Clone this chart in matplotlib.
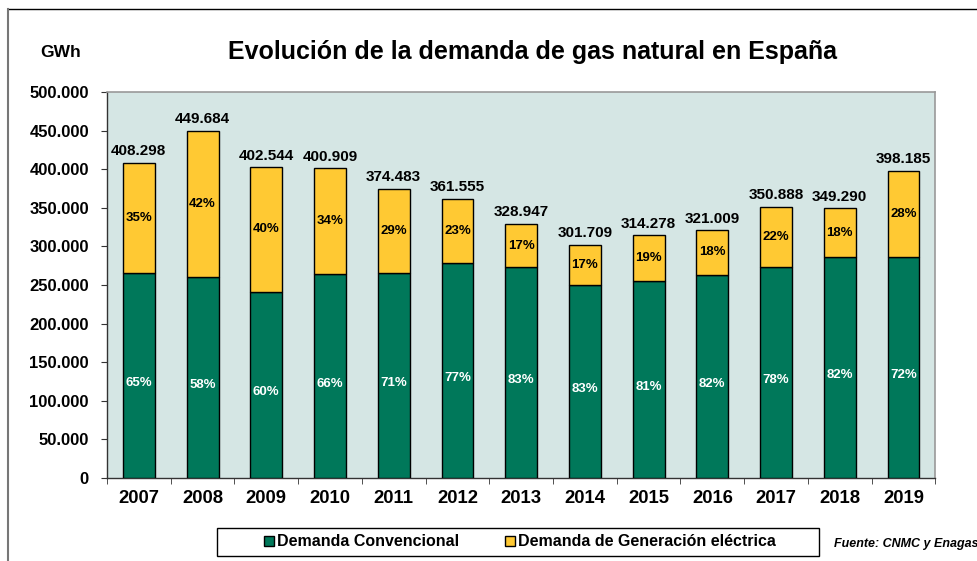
import matplotlib.pyplot as plt
import matplotlib.ticker as mticker
from matplotlib.patches import Rectangle
import numpy as np

plt.rcParams['font.family'] = ['Liberation Sans', 'DejaVu Sans']
plt.rcParams['font.weight'] = 'bold'

# data
years = ['2007', '2008', '2009', '2010', '2011', '2012', '2013',
         '2014', '2015', '2016', '2017', '2018', '2019']
totals = [408298, 449684, 402544, 400909, 374483, 361555, 328947,
          301709, 314278, 321009, 350888, 349290, 398185]
pct_conv = [65, 58, 60, 66, 71, 77, 83, 83, 81, 82, 78, 82, 72]
pct_elec = [35, 42, 40, 34, 29, 23, 17, 17, 19, 18, 22, 18, 28]

green = '#00785A'
yellow = '#FFC933'
bg = '#D5E6E4'

totals = np.array(totals, dtype=float)
conv = totals * np.array(pct_conv) / 100.0
elec = totals - conv
x = np.arange(len(years))

fig = plt.figure(figsize=(9.78, 5.61), dpi=100)
ax = fig.add_axes([0.1094, 0.148, 0.847, 0.688])
ax.set_facecolor(bg)

ax.bar(x, conv, width=0.5, color=green, edgecolor='black', linewidth=1,
       label='Demanda Convencional', zorder=3)
ax.bar(x, elec, bottom=conv, width=0.5, color=yellow, edgecolor='black',
       linewidth=1, label='Demanda de Generación eléctrica', zorder=3)

def fmt(v):
    return f'{int(round(v)):,}'.replace(',', '.')

for i in range(len(years)):
    ax.text(x[i], totals[i] + 6000, fmt(totals[i]), ha='center', va='bottom',
            fontsize=11, fontweight='bold', zorder=4)
    ax.text(x[i], conv[i] / 2 - 10000, f'{pct_conv[i]}%', ha='center', va='center',
            fontsize=9.5, fontweight='bold', color='white', zorder=4)
    ax.text(x[i], conv[i] + elec[i] / 2, f'{pct_elec[i]}%', ha='center', va='center',
            fontsize=9.5, fontweight='bold', color='black', zorder=4)

ax.set_xlim(-0.5, len(years) - 0.5)
ax.set_ylim(0, 500000)
ax.yaxis.set_major_locator(mticker.MultipleLocator(50000))
ax.yaxis.set_major_formatter(mticker.FuncFormatter(lambda v, p: fmt(v)))
ax.set_xticks(x)
ax.set_xticklabels(years, fontsize=13.3, fontweight='bold')
ax.set_xticks(np.arange(-0.5, len(years), 1), minor=True)
ax.tick_params(axis='x', which='major', length=0, pad=9)
ax.tick_params(axis='x', which='minor', length=4, color='#333333')
ax.tick_params(axis='y', length=4, color='#333333', labelsize=12, pad=9)
for lab in ax.get_yticklabels():
    lab.set_fontweight('bold')

for s in ['left', 'bottom']:
    ax.spines[s].set_color('#333333')
    ax.spines[s].set_linewidth(1)
for s in ['top', 'right']:
    ax.spines[s].set_color('#999999')
    ax.spines[s].set_linewidth(1.2)

fig.text(0.544, 0.907, 'Evolución de la demanda de gas natural en España',
         ha='center', va='center', fontsize=18, fontweight='bold')
fig.text(0.0615, 0.907, 'GWh', ha='center', va='center', fontsize=12.5,
         fontweight='bold')

# legend frame drawn separately to match the wide box
fig.add_artist(Rectangle((0.2219, 0.0089), 0.6155, 0.0499,
                         transform=fig.transFigure, facecolor='white',
                         edgecolor='black', linewidth=1))
leg = fig.legend(loc='center', bbox_to_anchor=(0.5317, 0.0339), ncol=2,
                 frameon=False, fontsize=11.5,
                 handlelength=0.63, handleheight=0.63, handletextpad=0.15,
                 columnspacing=2.9, borderpad=0.2)
for h in leg.legend_handles:
    h.set_linewidth(1)
for t in leg.get_texts():
    t.set_fontweight('bold')

fig.text(0.853, 0.031, 'Fuente: CNMC y Enagas', ha='left', va='center',
         fontsize=9, fontweight='bold', style='italic')

# outer frame lines (top and left)
fig.add_artist(plt.Line2D([0.0082, 1.0], [0.984, 0.984], transform=fig.transFigure,
                          color='black', linewidth=1))
fig.add_artist(plt.Line2D([0.0082, 0.0082], [0.0, 0.984], transform=fig.transFigure,
                          color='#777777', linewidth=1.5))

fig.savefig('out.png', dpi=100)
